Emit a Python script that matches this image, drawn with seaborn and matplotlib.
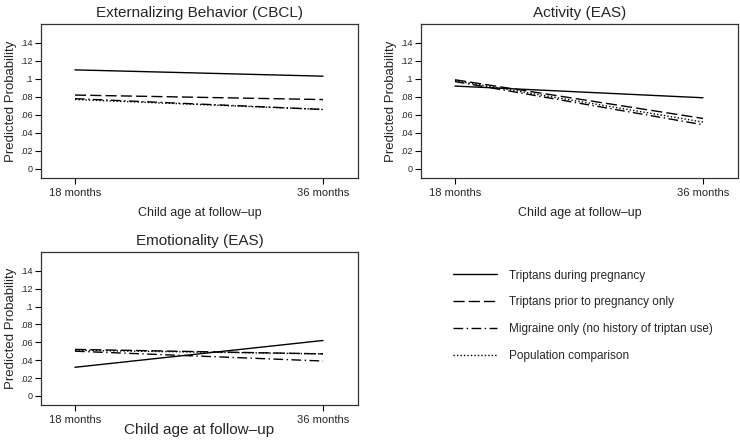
import matplotlib
matplotlib.use("Agg")
import matplotlib.pyplot as plt
from matplotlib.lines import Line2D
import pandas as pd
import seaborn as sns

ages = ["18 months", "36 months"]
groups = [
    "Triptans during pregnancy",
    "Triptans prior to pregnancy only",
    "Migraine only (no history of triptan use)",
    "Population comparison",
]

# predicted probabilities at 18 and 36 months, per group
ext_cbcl = {
    groups[0]: [0.110, 0.103],
    groups[1]: [0.082, 0.077],
    groups[2]: [0.078, 0.066],
    groups[3]: [0.077, 0.066],
}
activity_eas = {
    groups[0]: [0.092, 0.079],
    groups[1]: [0.099, 0.056],
    groups[2]: [0.097, 0.049],
    groups[3]: [0.098, 0.052],
}
emotion_eas = {
    groups[0]: [0.032, 0.062],
    groups[1]: [0.052, 0.047],
    groups[2]: [0.050, 0.039],
    groups[3]: [0.051, 0.047],
}

yticks = [0, 0.02, 0.04, 0.06, 0.08, 0.10, 0.12, 0.14]
ytick_labels = ["0", ".02", ".04", ".06", ".08", ".1", ".12", ".14"]

dash_styles = {
    groups[0]: "",
    groups[1]: (8, 3),
    groups[2]: (7, 2.5, 1, 2.5),
    groups[3]: (1, 1.5),
}


def to_long(values):
    rows = []
    for g, vals in values.items():
        for i, v in enumerate(vals):
            rows.append({"age": i, "group": g, "prob": v})
    return pd.DataFrame(rows)


sns.set_theme(style="white")
plt.rcParams["font.family"] = ["Liberation Sans", "DejaVu Sans"]

fig = plt.figure(figsize=(7.4, 4.42), dpi=100)
W, H = 740, 442


def add_axes(x0, y0, x1, y1):
    return fig.add_axes([x0 / W, 1 - y1 / H, (x1 - x0) / W, (y1 - y0) / H])


panels = [
    (ext_cbcl, "Externalizing Behavior (CBCL)", (41, 24, 358, 178), 9, 7),
    (activity_eas, "Activity (EAS)", (421, 24, 738, 178), 9, 7),
    (emotion_eas, "Emotionality (EAS)", (41, 252, 358, 405), 11, -1),
]

for data, title, box, xl_size, xl_pad in panels:
    ax = add_axes(*box)
    df = to_long(data)
    sns.lineplot(data=df, x="age", y="prob", style="group", dashes=dash_styles,
                 color="black", linewidth=1.0, legend=False, ax=ax)
    ax.set_xlim(-0.137, 1.141)
    ax.set_ylim(-0.0102, 0.161)
    ax.set_xticks([0, 1])
    ax.set_xticklabels(ages, fontsize=8)
    ax.set_yticks(yticks)
    ax.set_yticklabels(ytick_labels, fontsize=6.5)
    ax.tick_params(axis="both", direction="out", length=4, width=0.8, color="black",
                   left=True, bottom=True, pad=2)
    ax.tick_params(axis="x", pad=3)
    for s in ax.spines.values():
        s.set_color("#333333")
        s.set_linewidth(0.9)
    ax.set_title(title, fontsize=11, pad=5)
    ax.set_xlabel("Child age at follow\u2013up", fontsize=xl_size, labelpad=xl_pad)
    ax.set_ylabel("Predicted Probability", fontsize=9.5, labelpad=2)

# legend panel
handles = [Line2D([0], [0], color="black", linewidth=1.0,
                  linestyle=(0, dash_styles[g]) if dash_styles[g] else "-")
           for g in groups]
fig.legend(handles, groups, loc="upper left", bbox_to_anchor=(442 / W, 1 - 259 / H),
           frameon=False, fontsize=8.5, handlelength=3.8, handletextpad=0.95,
           labelspacing=1.26)

fig.savefig("out.png", dpi=100, facecolor="white")
